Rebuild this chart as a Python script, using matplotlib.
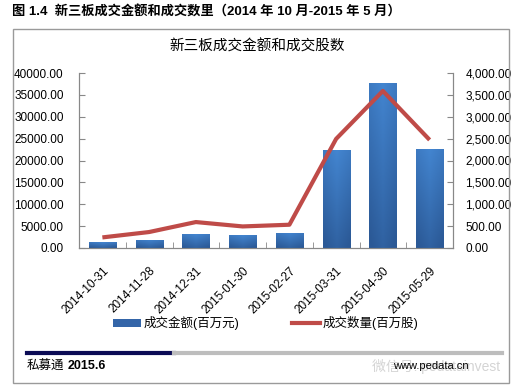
import numpy as np
import matplotlib
matplotlib.use("Agg")
import matplotlib.pyplot as plt
from matplotlib.colors import LinearSegmentedColormap
from matplotlib.patches import Rectangle
from matplotlib.lines import Line2D

plt.rcParams['font.family'] = ['Liberation Sans', 'Noto Sans CJK SC', 'DejaVu Sans']

dates = ['2014-10-31', '2014-11-28', '2014-12-31', '2015-01-30',
         '2015-02-27', '2015-03-31', '2015-04-30', '2015-05-29']
amount = [1280, 1900, 3100, 2900, 3500, 22300, 37800, 22700]   # 成交金额(百万元)
volume = [242, 365, 593, 493, 532, 2494, 3590, 2471]           # 成交数量(百万股)
left_ticks = np.arange(0, 40001, 5000)
right_ticks = np.arange(0, 4001, 500)

W, H = 529, 391
fig = plt.figure(figsize=(W / 100, H / 100), dpi=100)

# outer frame
fig.patches.append(Rectangle((13 / W, 1 - 383 / H), (509 - 13) / W, (383 - 29) / H,
                             transform=fig.transFigure, fill=False,
                             edgecolor='#9a9a9a', linewidth=1))

fig.text(12 / W, 1 - 12 / H, '图 1.4  新三板成交金额和成交数里（2014 年 10 月-2015 年 5 月）',
         fontsize=9.5, fontweight='bold', va='center', ha='left')
fig.text(257 / W, 1 - 47 / H, '新三板成交金额和成交股数', fontsize=10.5,
         va='center', ha='center')

ax = fig.add_axes([79 / W, 1 - 248 / H, (453 - 79) / W, (248 - 73) / H])
x = np.arange(len(dates))

bars = ax.bar(x, amount, width=0.58, color='#3a72bb', zorder=2)
# excel-like shading: lighter at the top, slightly darker at the edges
cmap = LinearSegmentedColormap.from_list('bar', ['#4385d0', '#2b5996'])
gy = np.linspace(0, 1, 64).reshape(-1, 1)
gx = np.abs(np.linspace(-1, 1, 32)).reshape(1, -1)
grad = np.clip(0.8 * gy + 0.25 * gx, 0, 1)
for b in bars:
    im = ax.imshow(grad, extent=[b.get_x(), b.get_x() + b.get_width(), 0, b.get_height()],
                   aspect='auto', cmap=cmap, vmin=0, vmax=1, origin='upper', zorder=3)
    im.set_clip_path(b)

ax.set_xlim(-0.5, len(dates) - 0.5)
ax.set_ylim(0, 40000)
ax.set_yticks(left_ticks)
ax.set_yticklabels(['%.2f' % v for v in left_ticks])
ax.set_xticks(x)
ax.set_xticklabels(dates, rotation=45, ha='right', rotation_mode='anchor')
ax.set_xticks(np.arange(-0.5, len(dates), 1), minor=True)
ax.tick_params(axis='x', which='major', length=0, pad=12, labelsize=8.5)
ax.tick_params(axis='x', which='minor', length=4, direction='in', color='#888888')
ax.tick_params(axis='y', length=4, direction='in', pad=11, labelsize=8.5, color='#888888')
ax.spines['top'].set_visible(False)
for s in ['left', 'bottom', 'right']:
    ax.spines[s].set_color('#888888')

ax2 = ax.twinx()
ax2.plot(x, volume, color='#bf4b48', linewidth=3, solid_capstyle='butt')
ax2.set_ylim(0, 4000)
ax2.set_yticks(right_ticks)
ax2.set_yticklabels(['{:,.2f}'.format(v) for v in right_ticks])
ax2.tick_params(axis='y', length=4, direction='in', pad=9, labelsize=8.5, color='#888888')
ax2.spines['top'].set_visible(False)
for s in ['left', 'bottom', 'right']:
    ax2.spines[s].set_color('#888888')

handles = [Rectangle((0, 0), 1, 1, facecolor='#3465a8'),
           Line2D([0], [0], color='#bf4b48', linewidth=3)]
fig.legend(handles, ['成交金额(百万元)', '成交数量(百万股)'], loc='center',
           bbox_to_anchor=(266 / W, 1 - 323 / H), ncol=2, frameon=False,
           fontsize=9, handlelength=2.2, handleheight=0.6, handletextpad=0.25,
           columnspacing=4.2)

# footer
fig.add_artist(Line2D([27 / W, 174 / W], [1 - 353 / H] * 2, color='#0b0b55', linewidth=3))
fig.add_artist(Line2D([174 / W, 502 / W], [1 - 353 / H] * 2, color='#bdbdbd', linewidth=3))
fig.text(27 / W, 1 - 366 / H, '私募通', fontsize=9, va='center', ha='left')
fig.text(68 / W, 1 - 366 / H, '2015.6', fontsize=9, fontweight='bold', va='center', ha='left')
fig.text(372 / W, 1 - 366 / H, '微信号: pedatainvest', fontsize=10, color='#d4d4d4',
         va='center', ha='left')
fig.text(393 / W, 1 - 366 / H, 'www.pedata.cn', fontsize=8, va='center', ha='left')

fig.savefig('out.png', dpi=100)
